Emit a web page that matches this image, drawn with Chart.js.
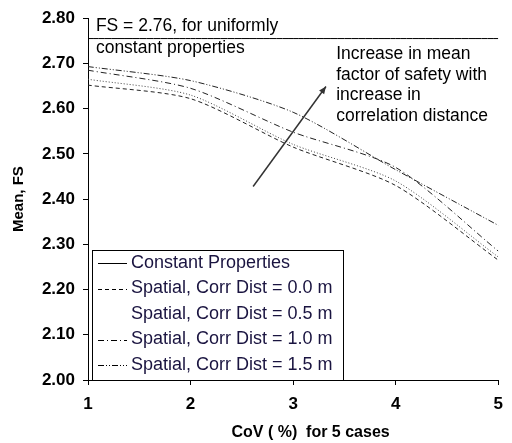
<!DOCTYPE html>
<html>
<head>
<meta charset="utf-8">
<script src="https://cdn.jsdelivr.net/npm/chart.js@4"></script>
<style>
  html, body { margin: 0; padding: 0; background: #fff; }
  #wrap { width: 512px; height: 443px; }
</style>
</head>
<body>
<div id="wrap"><canvas id="chartFS" width="512" height="443"></canvas></div>
<script>
// CoV cases on the x axis
var covCases = [1, 2, 3, 4, 5];
// mean factor of safety for each case
var fsConstant = [2.755, 2.755, 2.755, 2.755, 2.755];
var fsCorr00 = [2.652, 2.622, 2.515, 2.430, 2.265];
var fsCorr05 = [2.665, 2.630, 2.521, 2.440, 2.272];
var fsCorr10 = [2.685, 2.645, 2.548, 2.470, 2.285];
var fsCorr15 = [2.693, 2.662, 2.592, 2.465, 2.342];
var seriesLabels = [
    'Constant Properties',
    'Spatial, Corr Dist = 0.0 m',
    'Spatial, Corr Dist = 0.5 m',
    'Spatial, Corr Dist = 1.0 m',
    'Spatial, Corr Dist = 1.5 m'
];
var noteTop = ['FS = 2.76, for uniformly', 'constant properties'];
var noteArrow = ['Increase in mean', 'factor of safety with', 'increase in', 'correlation distance'];
var xTitle = 'CoV ( %)  for 5 cases';

var FONT = '"Liberation Sans", Arial, sans-serif';

function pts(arr) {
    return covCases.map(function (c, i) { return { x: c, y: arr[i] }; });
}

function makeSet(label, arr, dash, color) {
    return {
        label: label,
        data: pts(arr),
        borderColor: color,
        borderWidth: 1,
        borderDash: dash,
        pointRadius: 0,
        fill: false,
        tension: 0.25
    };
}

var notesPlugin = {
    id: 'notes',
    afterDatasetsDraw: function (chart) {
        var ctx = chart.ctx;
        var xs = chart.scales.x, ys = chart.scales.y;
        ctx.save();
        ctx.fillStyle = '#000';
        ctx.font = '17.5px ' + FONT;
        ctx.textBaseline = 'middle';
        ctx.textAlign = 'left';
        ctx.fillText(noteTop[0], xs.getPixelForValue(1.077), ys.getPixelForValue(2.783));
        ctx.fillText(noteTop[1], xs.getPixelForValue(1.077), ys.getPixelForValue(2.734));
        noteArrow.forEach(function (t, i) {
            ctx.fillText(t, xs.getPixelForValue(3.42), ys.getPixelForValue(2.721 - i * 0.0459));
        });

        // arrow
        var x0 = xs.getPixelForValue(2.61), y0 = ys.getPixelForValue(2.428);
        var x1 = xs.getPixelForValue(3.32), y1 = ys.getPixelForValue(2.649);
        ctx.strokeStyle = '#333';
        ctx.lineWidth = 1.5;
        ctx.beginPath();
        ctx.moveTo(x0, y0);
        ctx.lineTo(x1, y1);
        ctx.stroke();
        var ang = Math.atan2(y1 - y0, x1 - x0);
        ctx.fillStyle = '#333';
        ctx.beginPath();
        ctx.moveTo(x1, y1);
        ctx.lineTo(x1 - 8 * Math.cos(ang - 0.4), y1 - 8 * Math.sin(ang - 0.4));
        ctx.lineTo(x1 - 8 * Math.cos(ang + 0.4), y1 - 8 * Math.sin(ang + 0.4));
        ctx.closePath();
        ctx.fill();

        // x axis title
        ctx.font = 'bold 16px ' + FONT;
        ctx.textAlign = 'center';
        ctx.fillStyle = '#000';
        ctx.fillText(xTitle, xs.getPixelForValue(3.17), 433);
        ctx.restore();
    },
    afterDraw: function (chart) {
        // legend box inside the plot
        var ctx = chart.ctx;
        var area = chart.chartArea;
        var bx = area.left + 4, by = 250, bw = 251, bh = area.bottom - 250;
        ctx.save();
        ctx.fillStyle = '#fff';
        ctx.fillRect(bx, by, bw, bh);
        ctx.strokeStyle = '#000';
        ctx.lineWidth = 1;
        ctx.strokeRect(bx + 0.5, by + 0.5, bw, bh);
        ctx.font = '18px ' + FONT;
        ctx.textBaseline = 'middle';
        ctx.textAlign = 'left';
        chart.data.datasets.forEach(function (ds, i) {
            var ry = by + 13 + i * 25.5;
            if (i !== 2) {
                ctx.strokeStyle = '#000';
                ctx.lineWidth = 1;
                ctx.setLineDash(ds.borderDash || []);
                ctx.beginPath();
                ctx.moveTo(bx + 6, Math.round(ry) + 0.5);
                ctx.lineTo(bx + 35, Math.round(ry) + 0.5);
                ctx.stroke();
                ctx.setLineDash([]);
            }
            ctx.fillStyle = '#1a1440';
            ctx.fillText(ds.label, bx + 39, ry);
        });
        ctx.restore();
    }
};

var chartFS = new Chart(document.getElementById('chartFS'), {
    type: 'line',
    data: {
        datasets: [
            makeSet(seriesLabels[0], fsConstant, [], '#000'),
            makeSet(seriesLabels[1], fsCorr00, [4, 3], '#222'),
            makeSet(seriesLabels[2], fsCorr05, [1, 2], '#444'),
            makeSet(seriesLabels[3], fsCorr10, [6, 3, 1, 3], '#222'),
            makeSet(seriesLabels[4], fsCorr15, [6, 2, 1, 2, 1, 2], '#222')
        ]
    },
    options: {
        responsive: false,
        animation: false,
        layout: { padding: { left: 0, right: 11, top: 14, bottom: 0 } },
        plugins: {
            legend: { display: false },
            tooltip: { enabled: false }
        },
        scales: {
            x: {
                type: 'linear',
                min: 1,
                max: 5,
                afterFit: function (s) { s.height = 63; },
                border: { color: '#000', width: 1 },
                grid: { drawOnChartArea: false, drawTicks: true, tickLength: 5, color: '#000' },
                ticks: {
                    stepSize: 1,
                    padding: 9,
                    color: '#000',
                    font: { family: FONT, size: 17, weight: 'bold' }
                }
            },
            y: {
                min: 2.0,
                max: 2.8,
                afterFit: function (s) { s.width = 88; },
                border: { color: '#000', width: 1 },
                grid: { drawOnChartArea: false, drawTicks: true, tickLength: 5, color: '#000' },
                ticks: {
                    stepSize: 0.1,
                    padding: 8,
                    color: '#000',
                    font: { family: FONT, size: 17, weight: 'bold' },
                    callback: function (v) { return v.toFixed(2); }
                },
                title: {
                    display: true,
                    text: 'Mean, FS',
                    color: '#000',
                    padding: { top: 10, bottom: 0 },
                    font: { family: FONT, size: 15, weight: 'bold' }
                }
            }
        }
    },
    plugins: [notesPlugin]
});
</script>
</body>
</html>
